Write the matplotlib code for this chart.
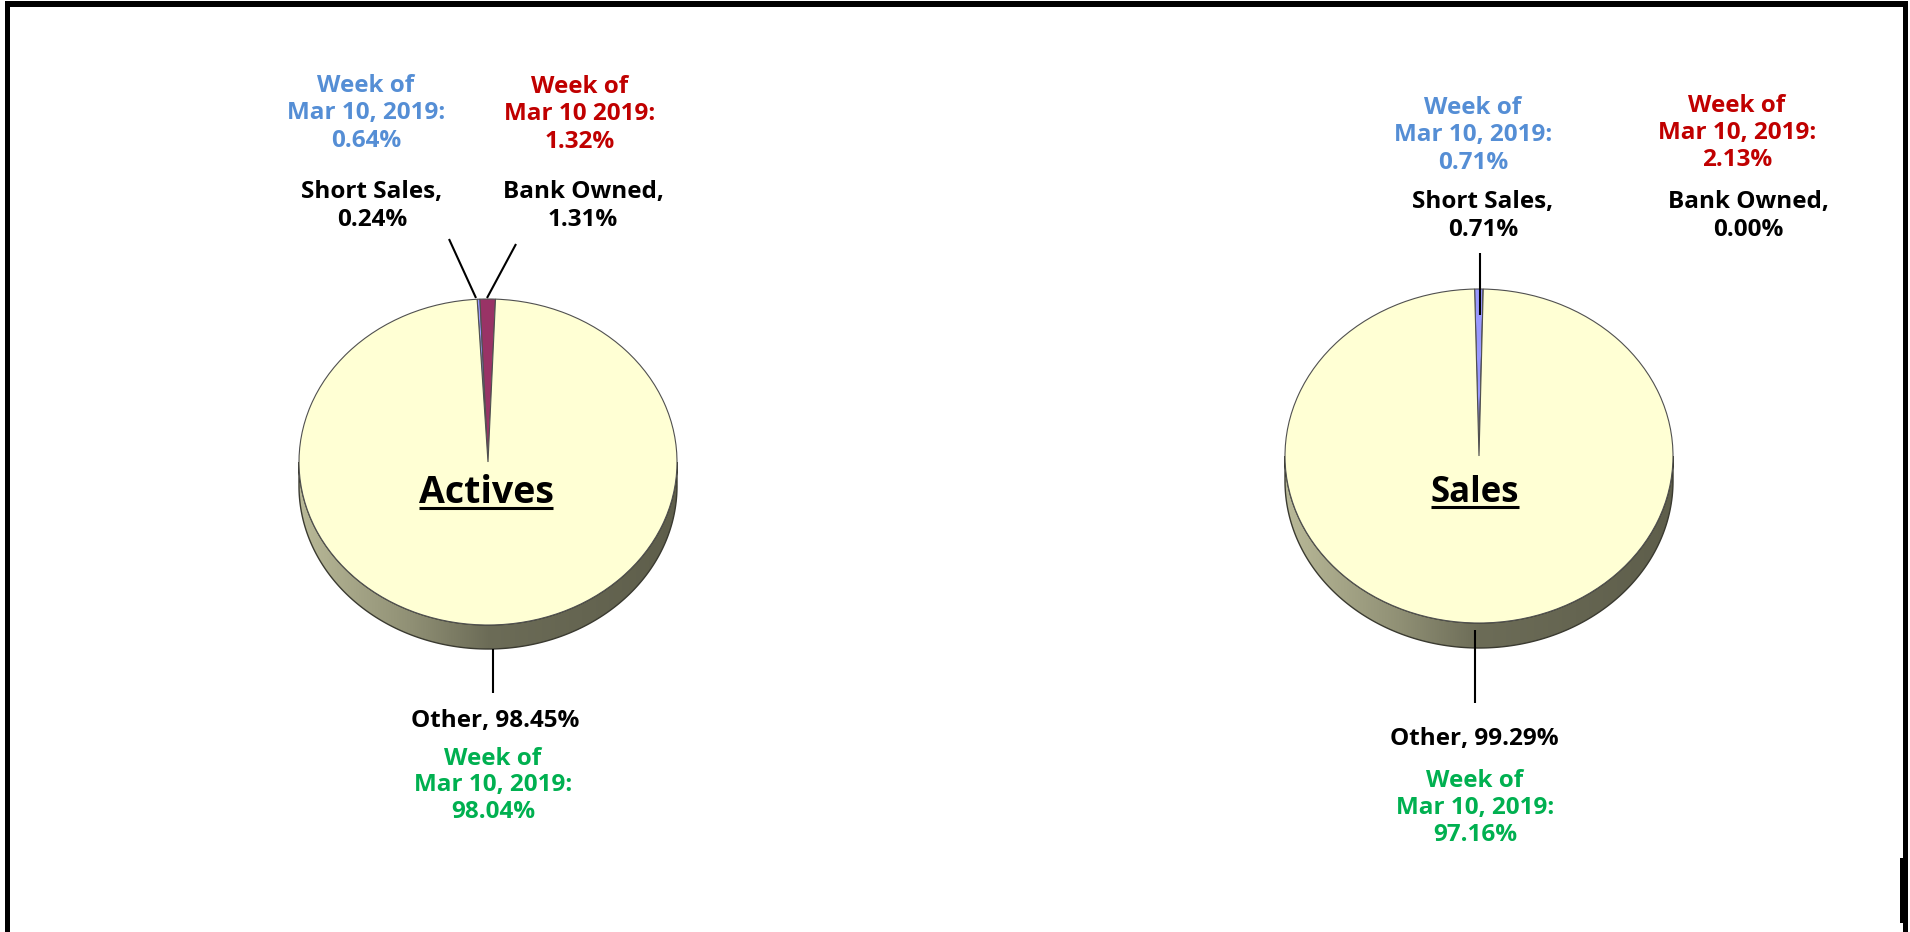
import numpy as np
import matplotlib.pyplot as plt
from matplotlib.colors import LinearSegmentedColormap
from matplotlib.patches import Polygon, Rectangle

plt.rcParams['font.family'] = ['Open Sans', 'DejaVu Sans']

W, H = 1910, 932
FS = 17.5

# data
categories = ['Short Sales', 'Bank Owned', 'Other']
actives = [0.24, 1.31, 98.45]
sales = [0.71, 0.00, 99.29]
actives_week = [0.64, 1.32, 98.04]
sales_week = [0.71, 2.13, 97.16]
actives_week_dates = ['Mar 10, 2019:', 'Mar 10 2019:', 'Mar 10, 2019:']
sales_week_dates = ['Mar 10, 2019:', 'Mar 10, 2019:', 'Mar 10, 2019:']

slice_colors = ['#9999FF', '#993366', '#FFFFD4']
week_colors = ['#558ED5', '#C00000', '#00B050']
side_cmap = LinearSegmentedColormap.from_list(
    'side', [(0, '#b9b998'), (0.3, '#8f8f74'), (0.5, '#6c6c57'), (1, '#5e5e4b')])

fig = plt.figure(figsize=(W / 100, H / 100), dpi=100)


def draw_pie(vals, cx, cy, a, b, depth, start, span=1.5):
    w, h = 2 * span * a, 2 * span * b
    ax = fig.add_axes([(cx - w / 2) / W, (H - cy - h / 2) / H, w / W, h / H])
    d = depth / b
    t = np.linspace(np.pi, 2 * np.pi, 300)
    pts = np.vstack([np.c_[np.cos(t), np.sin(t)],
                     np.c_[np.cos(t[::-1]), np.sin(t[::-1]) - d]])
    poly = Polygon(pts, closed=True, facecolor='none', edgecolor='#3a3a30', lw=1.0, zorder=2)
    ax.add_patch(poly)
    grad = np.linspace(0, 1, 256)[None, :]
    im = ax.imshow(grad, cmap=side_cmap, extent=(-1, 1, -1 - d, 0), aspect='auto', zorder=1)
    im.set_clip_path(poly)
    ax.pie(vals, colors=slice_colors, startangle=start, counterclock=False,
           wedgeprops=dict(edgecolor='#505050', linewidth=0.8, zorder=3))
    ax.set_aspect('auto')
    ax.set_xlim(-span, span)
    ax.set_ylim(-span, span)
    ax.axis('off')
    return ax


draw_pie(actives, 488, 462, 189, 163, 24, 93.3)
draw_pie(sales, 1479, 456, 194, 167, 25, 91.3)

ov = fig.add_axes([0, 0, 1, 1])
ov.set_xlim(0, W)
ov.set_ylim(H, 0)
ov.axis('off')


def stack(x, y0, lines, color, dy=27.5):
    for i, s in enumerate(lines):
        ov.text(x, y0 + i * dy, s, color=color, ha='center', va='baseline',
                fontsize=FS, fontweight='bold')


# Actives labels
stack(366, 92, ['Week of', actives_week_dates[0], f'{actives_week[0]:.2f}%'], week_colors[0])
stack(580, 93, ['Week of', actives_week_dates[1], f'{actives_week[1]:.2f}%'], week_colors[1])
stack(372, 198, [f'{categories[0]},', f'{actives[0]:.2f}%'], 'black', dy=28)
stack(583, 198, [f'{categories[1]},', f'{actives[1]:.2f}%'], 'black', dy=28)
stack(495, 727, [f'{categories[2]}, {actives[2]:.2f}%'], 'black')
stack(493, 765, ['Week of', actives_week_dates[2], f'{actives_week[2]:.2f}%'], week_colors[2], dy=26.5)

# Sales labels
stack(1473, 114, ['Week of', sales_week_dates[0], f'{sales_week[0]:.2f}%'], week_colors[0], dy=27.5)
stack(1737, 112, ['Week of', sales_week_dates[1], f'{sales_week[1]:.2f}%'], week_colors[1], dy=27)
stack(1483, 208, [f'{categories[0]},', f'{sales[0]:.2f}%'], 'black', dy=28)
stack(1748, 208, [f'{categories[1]},', f'{sales[1]:.2f}%'], 'black', dy=28)
stack(1474, 745, [f'{categories[2]}, {sales[2]:.2f}%'], 'black')
stack(1475, 787, ['Week of', sales_week_dates[2], f'{sales_week[2]:.2f}%'], week_colors[2], dy=27)

# leader lines
for xs, ys in [((449, 476), (239, 298)), ((516, 487), (244, 298)), ((493, 493), (649, 693)),
               ((1480, 1480), (253, 315)), ((1475, 1475), (630, 703))]:
    ov.plot(xs, ys, color='black', lw=1.5, solid_capstyle='butt')

# pie titles, underlined
renderer = fig.canvas.get_renderer()
for x, y, s, fs in [(486, 503, 'Actives', 27), (1475, 502, 'Sales', 25)]:
    t = ov.text(x, y, s, ha='center', va='baseline', fontsize=fs, fontweight='bold', color='black')
    bb = t.get_window_extent(renderer)
    ov.plot([bb.x0, bb.x1], [y + 4.5, y + 4.5], color='black', lw=2.2, solid_capstyle='butt')

# frame
for x, y, w, h in [(5, 1, 1903, 6), (5, 1, 5, 931), (1903, 1, 5, 931), (1900, 858, 3, 65)]:
    ov.add_patch(Rectangle((x, y), w, h, facecolor='black', edgecolor='none'))

fig.savefig('out.png', dpi=100)
